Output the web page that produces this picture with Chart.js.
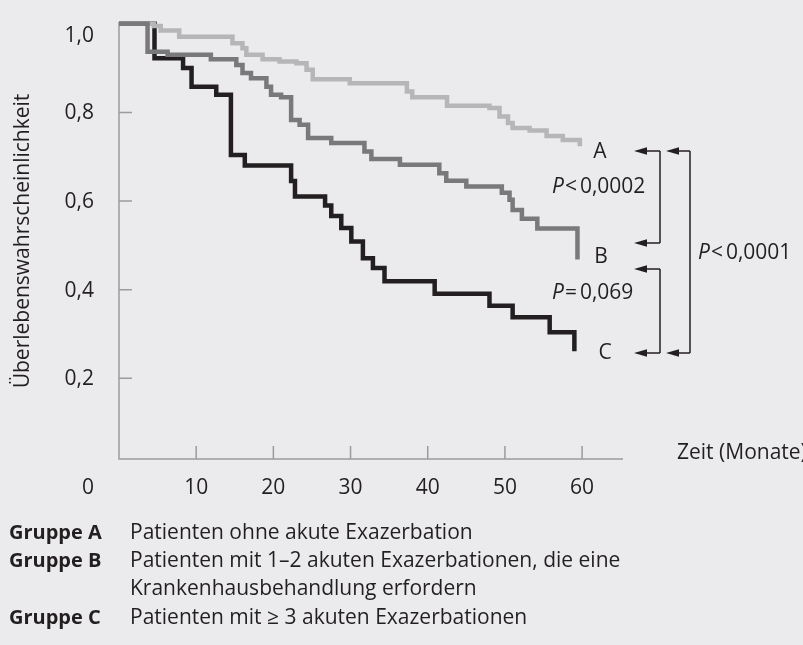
<!DOCTYPE html>
<html><head><meta charset="utf-8">
<script src="https://cdn.jsdelivr.net/npm/chart.js@4"></script>
<style>html,body{margin:0;padding:0;background:#ebebee;overflow:hidden}canvas{display:block}</style>
</head><body>
<canvas id="c" width="803" height="645"></canvas>
<script>
// ---- data (Kaplan-Meier steps: time in months, survival probability after the step) ----
const timeA = [0, 4.5, 5.4, 7.8, 14.7, 16.0, 16.5, 18.6, 20.8, 23.0, 24.3, 25.1, 29.9, 37.3, 38.0, 42.5, 48.0, 49.3, 50.4, 51.0, 53.2, 55.4, 57.5, 59.7, 60.0];
const survA = [1.0, 0.995, 0.985, 0.971, 0.956, 0.945, 0.930, 0.920, 0.915, 0.911, 0.896, 0.875, 0.866, 0.847, 0.834, 0.815, 0.810, 0.791, 0.776, 0.765, 0.759, 0.747, 0.738, 0.729, 0.729];
const timeB = [0, 3.7, 6.3, 11.9, 15.2, 16.0, 17.1, 19.1, 19.7, 21.0, 22.3, 23.4, 24.5, 27.5, 31.8, 32.7, 36.4, 41.5, 42.4, 45.0, 49.6, 50.6, 51.0, 52.2, 54.2, 59.4];
const survB = [1.0, 0.937, 0.930, 0.920, 0.907, 0.889, 0.877, 0.858, 0.840, 0.834, 0.783, 0.772, 0.742, 0.731, 0.712, 0.695, 0.682, 0.663, 0.646, 0.633, 0.619, 0.603, 0.580, 0.560, 0.538, 0.468];
const timeC = [0, 4.6, 8.3, 9.4, 12.6, 14.5, 16.3, 22.3, 22.8, 26.7, 27.5, 28.8, 30.1, 31.6, 32.9, 34.4, 40.9, 48.0, 51.0, 55.8, 59.0];
const survC = [1.0, 0.922, 0.900, 0.858, 0.840, 0.704, 0.680, 0.645, 0.610, 0.590, 0.566, 0.539, 0.509, 0.471, 0.449, 0.419, 0.391, 0.364, 0.338, 0.304, 0.261];

const yTickValues = [0.2, 0.4, 0.6, 0.8, 1.0];
const yTickLabels = ['0,2', '0,4', '0,6', '0,8', '1,0'];
const xTickValues = [10, 20, 30, 40, 50, 60];
const xTickLabels = ['10', '20', '30', '40', '50', '60'];
const originLabel = '0';
const yTitle = 'Überlebenswahrscheinlichkeit';
const xTitle = 'Zeit (Monate)';
const groupKeys = ['A', 'B', 'C'];
const legendRows = [
  ['Gruppe A', 'Patienten ohne akute Exazerbation'],
  ['Gruppe B', 'Patienten mit 1–2 akuten Exazerbationen, die eine'],
  ['', 'Krankenhausbehandlung erfordern'],
  ['Gruppe C', 'Patienten mit ≥ 3 akuten Exazerbationen']
];
const pTexts = [['P', '<', '0,0002'], ['P', '=', '0,069'], ['P', '<', '0,0001']];

// ---- styling ----
const FONT = '"Open Sans", "Noto Sans", sans-serif';
const FS = 21;
const TXT = '#231f20';
const AXIS = '#9c9c9e';
const colA = '#b6b6b9', colB = '#79797b', colC = '#231f20';

const toXY = (t, s) => t.map((x, i) => ({ x: x, y: s[i] }));

function arrowLeft(ctx, tipX, y, toX) {
  ctx.beginPath(); ctx.moveTo(tipX + 10, y); ctx.lineTo(toX, y); ctx.stroke();
  ctx.beginPath(); ctx.moveTo(tipX, y); ctx.lineTo(tipX + 13, y - 3.8); ctx.lineTo(tipX + 13, y + 3.8); ctx.closePath(); ctx.fill();
}
function pText(ctx, parts, x, y) {
  ctx.textAlign = 'left'; ctx.textBaseline = 'middle';
  ctx.font = 'italic ' + FS + 'px ' + FONT; ctx.fillText(parts[0], x, y);
  let cx = x + ctx.measureText(parts[0]).width + 1;
  ctx.font = FS + 'px ' + FONT;
  ctx.fillText(parts[1], cx, y);
  cx += ctx.measureText(parts[1]).width + 3;
  ctx.fillText(parts[2], cx, y);
}

const decor = {
  id: 'decor',
  beforeDatasetsDraw(chart) {
    const { ctx, chartArea: a, scales: { x, y } } = chart;
    ctx.save();
    ctx.strokeStyle = AXIS; ctx.lineWidth = 1.5;
    ctx.beginPath();
    ctx.moveTo(a.left, a.top); ctx.lineTo(a.left, a.bottom); ctx.lineTo(a.right, a.bottom);
    yTickValues.forEach(v => { if (v < 1) { const py = y.getPixelForValue(v); ctx.moveTo(a.left, py); ctx.lineTo(a.left + 13, py); } });
    xTickValues.forEach(v => { const px = x.getPixelForValue(v); ctx.moveTo(px, a.bottom); ctx.lineTo(px, a.bottom - 13); });
    ctx.stroke();
    ctx.restore();
  },
  afterDraw(chart) {
    const { ctx, chartArea: a, scales: { x, y } } = chart;
    ctx.save();
    ctx.fillStyle = TXT;
    ctx.font = FS + 'px ' + FONT;
    // y tick labels
    ctx.textAlign = 'right'; ctx.textBaseline = 'middle';
    yTickValues.forEach((v, i) => {
      let py = y.getPixelForValue(v);
      if (v >= 1) py += 11;
      ctx.fillText(yTickLabels[i], a.left - 25, py + 1);
    });
    // x tick labels
    ctx.textAlign = 'center';
    xTickValues.forEach((v, i) => ctx.fillText(xTickLabels[i], x.getPixelForValue(v), a.bottom + 29));
    ctx.fillText(originLabel, a.left - 31, a.bottom + 29);
    // x title
    ctx.textAlign = 'left';
    ctx.fillText(xTitle, a.right + 54, a.bottom - 6);
    // y title
    ctx.save();
    ctx.translate(23, 241); ctx.rotate(-Math.PI / 2);
    ctx.textAlign = 'center';
    ctx.fillText(yTitle, 0, 0);
    ctx.restore();
    // group labels at curve ends
    const ends = [[timeA, survA, -0.018], [timeB, survB, 0.006], [timeC, survC, -0.004]];
    ctx.textAlign = 'center';
    ends.forEach((e, i) => {
      const s = e[1];
      ctx.fillText(groupKeys[i], [600, 601, 605][i], y.getPixelForValue(s[s.length - 1] + e[2]));
    });
    // brackets
    ctx.strokeStyle = TXT; ctx.lineWidth = 1.5;
    const yA = 151, yB1 = 243, yB2 = 269, yC = 353;
    arrowLeft(ctx, 634, yA, 660); arrowLeft(ctx, 634, yB1, 660);
    ctx.beginPath(); ctx.moveTo(660, yA); ctx.lineTo(660, yB1); ctx.stroke();
    arrowLeft(ctx, 634, yB2, 660); arrowLeft(ctx, 634, yC, 660);
    ctx.beginPath(); ctx.moveTo(660, yB2); ctx.lineTo(660, yC); ctx.stroke();
    arrowLeft(ctx, 666, yA, 690); arrowLeft(ctx, 666, yC, 690);
    ctx.beginPath(); ctx.moveTo(690, yA); ctx.lineTo(690, yC); ctx.stroke();
    pText(ctx, pTexts[0], 552, 187);
    pText(ctx, pTexts[1], 552, 293);
    pText(ctx, pTexts[2], 698, 253);
    // legend
    const rowsY = [533, 561, 589, 618];
    legendRows.forEach((r, i) => {
      ctx.textAlign = 'left'; ctx.textBaseline = 'middle';
      if (r[0]) { ctx.font = 'bold 20px ' + FONT; ctx.fillText(r[0], 9, rowsY[i]); }
      ctx.font = FS + 'px ' + FONT; ctx.fillText(r[1], 130, rowsY[i]);
    });
    ctx.restore();
  }
};

const common = { stepped: true, borderWidth: 4.5, pointRadius: 0, fill: false, tension: 0, borderCapStyle: 'butt', borderJoinStyle: 'miter', clip: false };
new Chart(document.getElementById('c'), {
  type: 'line',
  data: {
    datasets: [
      Object.assign({ label: 'Gruppe B', data: toXY(timeB, survB), borderColor: colB }, common),
      Object.assign({ label: 'Gruppe A', data: toXY(timeA, survA), borderColor: colA }, common),
      Object.assign({ label: 'Gruppe C', data: toXY(timeC, survC), borderColor: colC }, common)
    ]
  },
  options: {
    responsive: false, animation: false, devicePixelRatio: 1,
    layout: { padding: { left: 119, right: 180, top: 22, bottom: 186 } },
    plugins: { legend: { display: false }, tooltip: { enabled: false } },
    scales: {
      x: { type: 'linear', min: 0, max: 65.3, display: false },
      y: { type: 'linear', min: 0.018, max: 1.004, display: false }
    }
  },
  plugins: [decor]
});
</script>
</body></html>
